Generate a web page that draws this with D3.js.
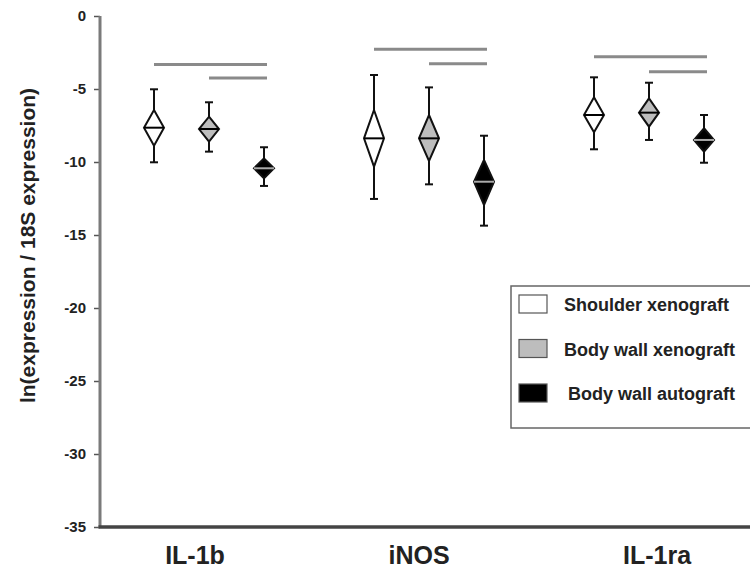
<!DOCTYPE html>
<html>
<head>
<meta charset="utf-8">
<script src="https://cdn.jsdelivr.net/npm/d3@7"></script>
<style>
  html, body { margin: 0; padding: 0; background: #fff; }
  svg { display: block; font-family: "Liberation Sans", Arial, sans-serif; font-weight: bold; }
</style>
</head>
<body>
<svg id="chart" width="750" height="576"></svg>
<script>
// categories and series
const categories = ['IL-1b', 'iNOS', 'IL-1ra']
const seriesNames = ['Shoulder xenograft', 'Body wall xenograft', 'Body wall autograft']
const seriesFill = ['#ffffff', '#bdbdbd', '#000000']
const midLine = ['#000000', '#000000', '#aaaaaa']

// values, one row per category, one column per series
const means      = [[-7.65, -7.74, -10.43], [-8.38, -8.38, -11.35], [-6.78, -6.62, -8.49]]
const diamondTop = [[-6.44, -6.90,  -9.75], [-6.44, -6.78,  -9.86], [-5.57, -5.64, -7.69]]
const diamondBot = [[-8.88, -8.61, -11.12], [-10.32, -9.93, -12.95], [-7.97, -7.58, -9.29]]
const whiskerTop = [[-5.02, -5.91,  -8.99], [-4.04, -4.89,  -8.20], [-4.20, -4.57, -6.78]]
const whiskerBot = [[-10.02, -9.29, -11.64], [-12.53, -11.53, -14.36], [-9.13, -8.49, -10.05]]

// significance bars: [from series, to series, level] per category
const sigBars = [
  [[0, 2, -3.33], [1, 2, -4.25]],
  [[0, 2, -2.28], [1, 2, -3.27]],
  [[0, 2, -2.79], [1, 2, -3.82]]
]

const yTicks = [0, -5, -10, -15, -20, -25, -30, -35]
// category label nudges as printed in the original figure
const labelShift = [-14, -10, 8]

const svg = d3.select('#chart')
const mLeft = 100, mTop = 16, mBottom = 527, mRight = 760

const x = d3.scaleBand().domain(categories).range([mLeft - 1, mRight - 1])
const xs = d3.scalePoint().domain(seriesNames).range([-55, 55])
const y = d3.scaleLinear().domain([0, -35]).range([mTop, mBottom])

// y axis
const yAxis = svg.append('g')
  .attr('transform', `translate(${mLeft},0)`)
  .call(d3.axisLeft(y).tickValues(yTicks).tickSize(6).tickPadding(8).tickFormat(d => String(d)))
yAxis.select('.domain').remove()
yAxis.selectAll('.tick line').attr('stroke', '#555').attr('stroke-width', 1.5)
yAxis.selectAll('.tick text').attr('font-size', 15).attr('font-weight', 'bold').attr('fill', '#222')
  .attr('font-family', '"Liberation Sans", Arial, sans-serif')
svg.append('line').attr('x1', mLeft).attr('x2', mLeft).attr('y1', y(0)).attr('y2', y(-35) + 1)
  .attr('stroke', '#7a7a7a').attr('stroke-width', 3)

// x axis
svg.append('line').attr('x1', mLeft - 1.5).attr('x2', 750).attr('y1', y(-35)).attr('y2', y(-35))
  .attr('stroke', '#444').attr('stroke-width', 3.5)
svg.append('g').selectAll('text').data(categories).join('text')
  .attr('x', (d, i) => x(d) + x.bandwidth() / 2 + labelShift[i])
  .attr('y', 564)
  .attr('text-anchor', 'middle')
  .attr('font-size', 25)
  .attr('fill', '#222')
  .text(d => d)

svg.append('text')
  .attr('transform', `translate(35,${(y(0) + y(-35)) / 2 - 26}) rotate(-90)`)
  .attr('text-anchor', 'middle')
  .attr('font-size', 21)
  .attr('fill', '#222')
  .text('ln(expression / 18S expression)')

// significance bars
categories.forEach((cat, ci) => {
  svg.append('g').selectAll('line').data(sigBars[ci]).join('line')
    .attr('x1', d => x(cat) + x.bandwidth() / 2 + xs(seriesNames[d[0]]))
    .attr('x2', d => x(cat) + x.bandwidth() / 2 + xs(seriesNames[d[1]]) + 3)
    .attr('y1', d => y(d[2])).attr('y2', d => y(d[2]))
    .attr('stroke', '#8a8a8a').attr('stroke-width', 3)
})

// diamonds with whiskers
const hw = 10, cap = 4
categories.forEach((cat, ci) => {
  seriesNames.forEach((s, si) => {
    const cx = x(cat) + x.bandwidth() / 2 + xs(s)
    const g = svg.append('g')
    g.append('line').attr('x1', cx).attr('x2', cx)
      .attr('y1', y(whiskerTop[ci][si])).attr('y2', y(whiskerBot[ci][si]))
      .attr('stroke', '#111').attr('stroke-width', 2)
    ;[whiskerTop[ci][si], whiskerBot[ci][si]].forEach(v => {
      g.append('line').attr('x1', cx - cap).attr('x2', cx + cap)
        .attr('y1', y(v)).attr('y2', y(v))
        .attr('stroke', '#111').attr('stroke-width', 2)
    })
    const m = y(means[ci][si])
    const pts = [[cx, y(diamondTop[ci][si])], [cx + hw, m], [cx, y(diamondBot[ci][si])], [cx - hw, m]]
    g.append('path').attr('d', d3.line()(pts) + 'Z')
      .attr('fill', seriesFill[si]).attr('stroke', '#111').attr('stroke-width', 2)
      .attr('stroke-linejoin', 'miter')
    g.append('line').attr('x1', cx - hw).attr('x2', cx + hw)
      .attr('y1', m).attr('y2', m)
      .attr('stroke', midLine[si]).attr('stroke-width', 2)
  })
})

// legend
const legend = svg.append('g').attr('transform', 'translate(511,286)')
legend.append('rect').attr('width', 260).attr('height', 142)
  .attr('fill', '#fff').attr('stroke', '#666').attr('stroke-width', 1.5)
seriesNames.forEach((s, i) => {
  const ly = 9 + i * 44.5
  legend.append('rect').attr('x', 8).attr('y', ly).attr('width', 28).attr('height', 18)
    .attr('fill', seriesFill[i]).attr('stroke', '#555').attr('stroke-width', 1.2)
  legend.append('text').attr('x', 53 + (i === 2 ? 4 : 0)).attr('y', ly + 16)
    .attr('font-size', 18).attr('fill', '#222').text(s)
})
</script>
</body>
</html>
